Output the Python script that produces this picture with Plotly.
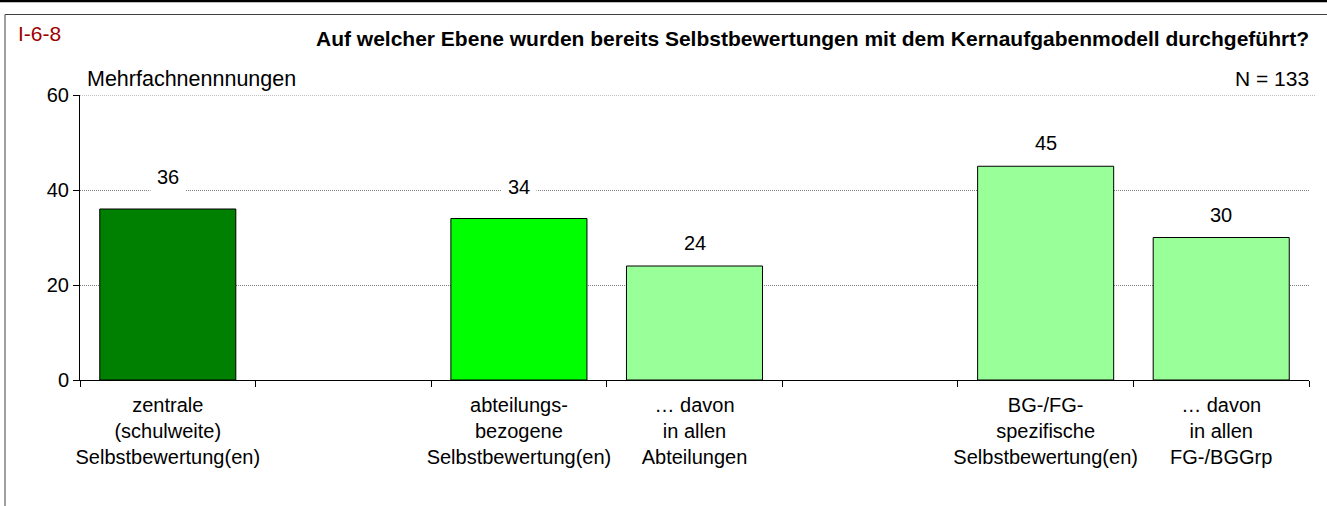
import plotly.graph_objects as go

# ---- data ----
categories = [
    "zentrale<br>(schulweite)<br>Selbstbewertung(en)",
    " ",
    "abteilungs-<br>bezogene<br>Selbstbewertung(en)",
    "… davon<br>in allen<br>Abteilungen",
    "  ",
    "BG-/FG-<br>spezifische<br>Selbstbewertung(en)",
    "… davon<br>in allen<br>FG-/BGGrp",
]
values = [36, None, 34, 24, None, 45, 30]
bar_colors = ["#008000", "#008000", "#00FF00", "#99FF99", "#99FF99", "#99FF99", "#99FF99"]
label_yshift = [32, 0, 32, 23, 0, 23, 23]

y_ticks = [0, 20, 40, 60]
y_max = 60
title_text = "Auf welcher Ebene wurden bereits Selbstbewertungen mit dem Kernaufgabenmodell durchgeführt?"
chart_id = "I-6-8"
subtitle_left = "Mehrfachnennnungen"
subtitle_right = "N = 133"

W, H = 1327, 506
L, R, T, B = 80, 18, 95, 126
PW, PH = W - L - R, H - T - B

def px(x):
    return (x - L) / PW

def py(y):
    return (H - B - y) / PH

FONT = "Liberation Sans, Arial, sans-serif"

fig = go.Figure()
fig.add_trace(go.Bar(
    x=categories,
    y=values,
    marker=dict(color=bar_colors, line=dict(color="black", width=1)),
    hoverinfo="skip",
))

annotations = []
for c, v, s in zip(categories, values, label_yshift):
    if v is None:
        continue
    annotations.append(dict(
        x=c, y=v, xref="x", yref="y", text=str(v), showarrow=False,
        yanchor="middle", yshift=s, bgcolor="white", borderpad=6,
        font=dict(family=FONT, size=20, color="black"),
    ))

annotations += [
    dict(x=px(16), y=py(33), xref="paper", yref="paper", text=chart_id, showarrow=False,
         xanchor="left", yanchor="middle", font=dict(family=FONT, size=21, color="#A00000")),
    dict(x=px(1311), y=py(38), xref="paper", yref="paper", text="<b>" + title_text + "</b>",
         showarrow=False, xanchor="right", yanchor="middle",
         font=dict(family=FONT, size=21, color="black")),
    dict(x=px(85), y=py(79), xref="paper", yref="paper", text=subtitle_left, showarrow=False,
         xanchor="left", yanchor="middle", font=dict(family=FONT, size=21.5, color="black")),
    dict(x=px(1311), y=py(78), xref="paper", yref="paper", text=subtitle_right, showarrow=False,
         xanchor="right", yanchor="middle", font=dict(family=FONT, size=21, color="black")),
]

shapes = [
    dict(type="line", xref="paper", yref="paper", x0=px(0), x1=px(W), y0=py(1), y1=py(1),
         line=dict(color="black", width=2.5)),
    dict(type="rect", xref="paper", yref="paper", x0=px(5), x1=px(W + 20), y0=py(14.5), y1=py(H + 20),
         line=dict(color="#404040", width=1)),
    # top gridline (at the axis maximum)
    dict(type="line", xref="paper", yref="y", x0=0, x1=px(1315), y0=y_max, y1=y_max,
         line=dict(color="#808080", width=1, dash="1px,1px"), layer="below"),
]

fig.update_layout(
    width=W, height=H,
    margin=dict(l=L, r=R, t=T, b=B, pad=0, autoexpand=False),
    paper_bgcolor="white", plot_bgcolor="white",
    showlegend=False,
    bargap=0.225,
    font=dict(family=FONT, size=20, color="black"),
    annotations=annotations,
    shapes=shapes,
    xaxis=dict(
        type="category", categoryorder="array", categoryarray=categories,
        tickson="boundaries", ticks="outside", ticklen=6, tickcolor="black",
        tickangle=0, automargin=False, ticklabelstandoff=7,
        showline=True, linecolor="black", linewidth=1, showgrid=False,
        tickfont=dict(family=FONT, size=20, color="black"),
        fixedrange=True,
    ),
    yaxis=dict(
        range=[0, y_max], tickvals=y_ticks, ticks="outside", ticklen=6, tickcolor="black",
        automargin=False,
        showline=True, linecolor="black", linewidth=1,
        showgrid=True, gridcolor="#808080", griddash="1px,1px", gridwidth=1,
        zeroline=False,
        tickfont=dict(family=FONT, size=20, color="black"),
        fixedrange=True,
    ),
)

fig.write_html(
    "out.html",
    config={"displayModeBar": False},
    post_script="document.body.style.margin='0px';document.body.style.overflow='hidden';",
)
